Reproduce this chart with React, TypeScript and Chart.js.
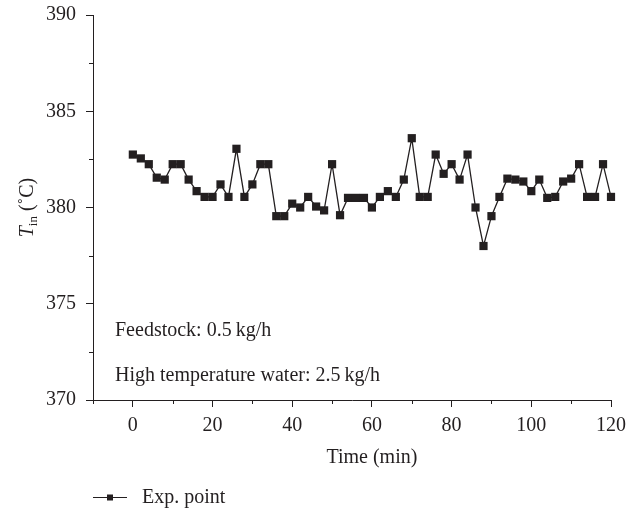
import { useEffect, useRef } from "react";
import { Chart, registerables } from "chart.js";

Chart.register(...registerables);

// ---- data ----
const timeMin = [
  0, 2, 4, 6, 8, 10, 12, 14, 16, 18, 20, 22, 24, 26, 28, 30, 32, 34, 36, 38,
  40, 42, 44, 46, 48, 50, 52, 54, 56, 58, 60, 62, 64, 66, 68, 70, 72, 74, 76, 78,
  80, 82, 84, 86, 88, 90, 92, 94, 96, 98, 100, 102, 104, 106, 108, 110, 112, 114, 116, 118, 120,
];
const tinValues = [
  382.75, 382.55, 382.25, 381.55, 381.45, 382.25, 382.25, 381.45, 380.85, 380.55,
  380.55, 381.2, 380.55, 383.05, 380.55, 381.2, 382.25, 382.25, 379.55, 379.55,
  380.2, 380.0, 380.55, 380.05, 379.85, 382.25, 379.6, 380.5, 380.5, 380.5,
  380.0, 380.55, 380.85, 380.55, 381.45, 383.6, 380.55, 380.55, 382.75, 381.75,
  382.25, 381.45, 382.75, 380.0, 378.0, 379.55, 380.55, 381.5, 381.45, 381.35,
  380.85, 381.45, 380.5, 380.55, 381.35, 381.5, 382.25, 380.55, 380.55, 382.25, 380.55,
];
const xTickValues = [0, 20, 40, 60, 80, 100, 120];
const xMinorTicks = [-10, 10, 30, 50, 70, 90, 110];
const yTickValues = [370, 375, 380, 385, 390];
const yMinorTicks = [372.5, 377.5, 382.5, 387.5];
const seriesLabel = "Exp. point";
const xTitle = "Time (min)";
const annotations = ["Feedstock: 0.5\u2009kg/h", "High temperature water: 2.5\u2009kg/h"];

const FONT = '"Liberation Serif", "Times New Roman", serif';
const INK = "#231f20";
const FS = 20;

const overlayPlugin = {
  id: "overlay",
  afterDraw(chart: any) {
    const { ctx, chartArea, scales } = chart;
    const xs = scales.x;
    const ys = scales.y;
    ctx.save();
    ctx.strokeStyle = INK;
    ctx.fillStyle = INK;
    ctx.lineWidth = 1;
    // minor ticks
    for (const v of xMinorTicks) {
      const px = Math.round(xs.getPixelForValue(v)) + 0.5;
      ctx.beginPath();
      ctx.moveTo(px, chartArea.bottom);
      ctx.lineTo(px, chartArea.bottom + 4);
      ctx.stroke();
    }
    for (const v of yMinorTicks) {
      const py = Math.round(ys.getPixelForValue(v)) + 0.5;
      ctx.beginPath();
      ctx.moveTo(chartArea.left - 4, py);
      ctx.lineTo(chartArea.left, py);
      ctx.stroke();
    }

    // x title, centred over the 0..120 range
    ctx.font = `${FS}px ${FONT}`;
    ctx.textAlign = "center";
    ctx.textBaseline = "middle";
    ctx.fillText(xTitle, (xs.getPixelForValue(0) + xs.getPixelForValue(120)) / 2, 458);

    // annotations
    ctx.textAlign = "left";
    ctx.fillText(annotations[0], 115, 331);
    ctx.fillText(annotations[1], 115, 376);

    // y title: T_in (°C)
    ctx.save();
    ctx.translate(26, (chartArea.top + chartArea.bottom) / 2);
    ctx.rotate(-Math.PI / 2);
    ctx.textBaseline = "alphabetic";
    const fT = `italic ${FS}px ${FONT}`;
    const fSub = `13px ${FONT}`;
    const fRest = `${FS}px ${FONT}`;
    ctx.font = fT;
    const wT = ctx.measureText("T").width;
    ctx.font = fSub;
    const wSub = ctx.measureText("in").width;
    ctx.font = fRest;
    const rest = " (\u02daC)";
    const wRest = ctx.measureText(rest).width;
    const total = wT + wSub + wRest;
    let x0 = -total / 2;
    ctx.font = fT;
    ctx.fillText("T", x0, 7);
    x0 += wT;
    ctx.font = fSub;
    ctx.fillText("in", x0, 11);
    x0 += wSub;
    ctx.font = fRest;
    ctx.fillText(rest, x0, 7);
    ctx.restore();

    // legend
    const ly = 497.5;
    ctx.beginPath();
    ctx.moveTo(93, ly);
    ctx.lineTo(127, ly);
    ctx.stroke();
    ctx.fillRect(110 - 3, ly - 3, 6, 6);
    ctx.textAlign = "left";
    ctx.textBaseline = "middle";
    ctx.font = `${FS}px ${FONT}`;
    ctx.fillText(seriesLabel, 142, ly);
    ctx.restore();
  },
};

export default function App() {
  const ref = useRef<HTMLCanvasElement | null>(null);
  useEffect(() => {
    document.body.style.margin = "0";
    const canvas = ref.current;
    if (!canvas) return;
    const chart = new Chart(canvas, {
      type: "line",
      data: {
        datasets: [
          {
            label: seriesLabel,
            data: timeMin.map((t, i) => ({ x: t, y: tinValues[i] })),
            borderColor: INK,
            borderWidth: 1.3,
            backgroundColor: INK,
            pointStyle: "rect",
            pointRadius: 5.8,
            pointBorderWidth: 0,
            pointBackgroundColor: INK,
            tension: 0,
            fill: false,
            clip: false,
          } as any,
        ],
      },
      options: {
        responsive: false,
        animation: false,
        events: [],
        layout: { padding: { left: 0, right: 29, top: 15, bottom: 0 } },
        plugins: {
          legend: { display: false },
          tooltip: { enabled: false },
          title: { display: false },
        },
        scales: {
          x: {
            type: "linear",
            min: -10,
            max: 120,
            afterBuildTicks: (scale: any) => {
              scale.ticks = xTickValues.map((v) => ({ value: v }));
            },
            afterFit: (scale: any) => {
              scale.height = 111;
              scale.paddingLeft = 0;
              scale.paddingRight = 0;
            },
            grid: {
              display: true,
              drawOnChartArea: false,
              drawTicks: true,
              tickLength: 7,
              color: INK,
              lineWidth: 1,
            },
            border: { display: true, color: INK, width: 1 },
            ticks: {
              font: { family: FONT, size: FS },
              color: INK,
              padding: 7,
              maxRotation: 0,
              autoSkip: false,
            },
          },
          y: {
            type: "linear",
            min: 370,
            max: 390,
            afterBuildTicks: (scale: any) => {
              scale.ticks = yTickValues.map((v) => ({ value: v }));
            },
            afterFit: (scale: any) => {
              scale.width = 93;
              scale.paddingTop = 0;
              scale.paddingBottom = 0;
            },
            grid: {
              display: true,
              drawOnChartArea: false,
              drawTicks: true,
              tickLength: 7,
              color: INK,
              lineWidth: 1,
            },
            border: { display: true, color: INK, width: 1 },
            ticks: {
              font: { family: FONT, size: FS },
              color: INK,
              padding: 10,
              autoSkip: false,
            },
          },
        },
      },
      plugins: [overlayPlugin],
    });
    return () => chart.destroy();
  }, []);
  return (
    <div style={{ position: "absolute", left: 0, top: 0, width: 640, height: 511, background: "#fff" }}>
      <canvas ref={ref} width={640} height={511} style={{ display: "block" }} />
    </div>
  );
}
